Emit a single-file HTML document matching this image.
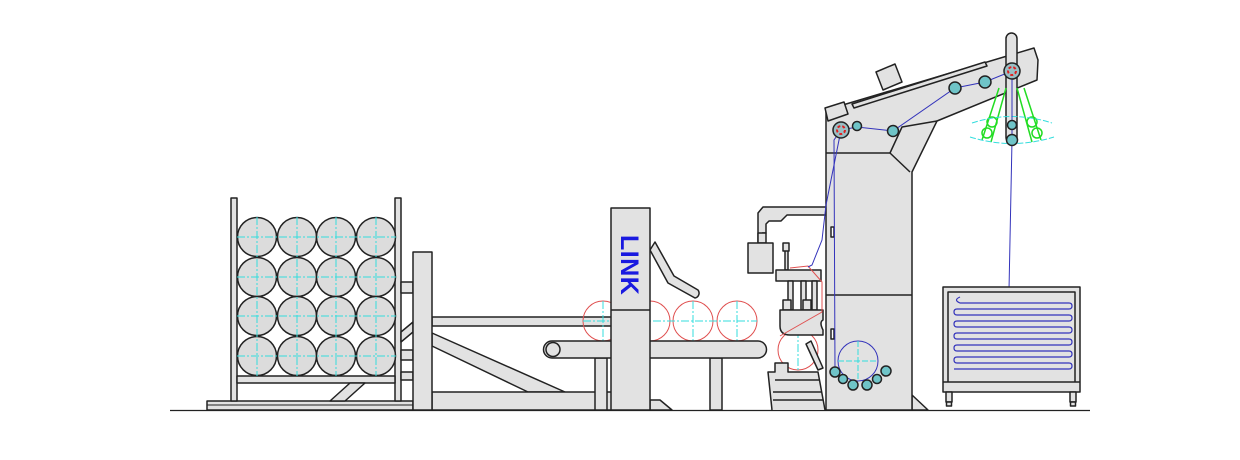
<!DOCTYPE html>
<html><head><meta charset="utf-8"><style>
html,body{margin:0;padding:0;background:#fff;width:1240px;height:460px;overflow:hidden}
svg{display:block}
</style></head><body>
<svg width="1240" height="460" viewBox="0 0 1240 460" xmlns="http://www.w3.org/2000/svg">
<g fill="#e2e2e2" stroke="#222" stroke-width="1.5" stroke-linejoin="round">
<line x1="170" y1="410.5" x2="1090" y2="410.5" stroke-width="1.3"/>
<rect x="207" y="401" width="206" height="9"/>
<line x1="207" y1="405" x2="413" y2="405" stroke-width="1"/>
<rect x="231" y="198" width="6" height="203"/>
<rect x="395" y="198" width="6" height="203"/>
<rect x="237" y="376" width="158" height="7"/>
<polygon points="330,401 345,401 365,383 350,383"/>
<rect x="401" y="282" width="12" height="11"/>
<rect x="401" y="350" width="12" height="10"/>
<rect x="401" y="372" width="12" height="8"/>
<polygon points="401,342 413,332 413,322 401,332"/>
</g>
<g fill="#dcdcdc" stroke="#222" stroke-width="1.5">
<circle cx="257" cy="237" r="19.5"/><circle cx="297" cy="237" r="19.5"/><circle cx="336" cy="237" r="19.5"/><circle cx="376" cy="237" r="19.5"/>
<circle cx="257" cy="277" r="19.5"/><circle cx="297" cy="277" r="19.5"/><circle cx="336" cy="277" r="19.5"/><circle cx="376" cy="277" r="19.5"/>
<circle cx="257" cy="316" r="19.5"/><circle cx="297" cy="316" r="19.5"/><circle cx="336" cy="316" r="19.5"/><circle cx="376" cy="316" r="19.5"/>
<circle cx="257" cy="356" r="19.5"/><circle cx="297" cy="356" r="19.5"/><circle cx="336" cy="356" r="19.5"/><circle cx="376" cy="356" r="19.5"/>
</g>
<g stroke="#33dddd" stroke-width="1" stroke-dasharray="8,2,2,2" fill="none">
<path d="M237 237H396M237 277H396M237 316H396M237 356H396M257 217V376M297 217V376M336 217V376M376 217V376"/>
</g>
<g fill="#e2e2e2" stroke="#222" stroke-width="1.5" stroke-linejoin="round">
<polygon points="432,333 432,346 528,392 565,392"/>
<rect x="432" y="392" width="180" height="18"/>
<rect x="432" y="317" width="180" height="9"/>
<rect x="413" y="252" width="19" height="158"/>
</g>
<g fill="none" stroke="#e05050" stroke-width="1">
<circle cx="603" cy="321" r="20"/><circle cx="650" cy="321" r="20"/><circle cx="693" cy="321" r="20"/><circle cx="737" cy="321" r="20"/>
<circle cx="798" cy="350" r="20"/>
</g>
<g stroke="#33dddd" stroke-width="1" stroke-dasharray="8,2,2,2" fill="none">
<path d="M583 321H757M603 301V341M650 301V341M693 301V341M737 301V341M798 330V370"/>
</g>
<g fill="#e2e2e2" stroke="#222" stroke-width="1.5" stroke-linejoin="round">
<rect x="595" y="358" width="12" height="52"/>
<rect x="710" y="358" width="12" height="52"/>
<polygon points="650,400 660,400 672,410 650,410"/>
<path d="M552 341H758A8.5 8.5 0 0 1 758 358H552A8.5 8.5 0 0 1 552 341Z"/>
<circle cx="553" cy="349.5" r="7"/>
<path d="M650 250 L668 283 L695 298 A5 5 0 0 0 698 290 L674 276 L655 242 Z"/>
<rect x="611" y="208" width="39" height="202"/>
<line x1="611" y1="310" x2="650" y2="310"/>
</g>
<text x="0" y="0" transform="translate(621,235) rotate(90)" font-family="Liberation Sans, sans-serif" font-weight="bold" font-size="25" fill="#1a1ae0" letter-spacing="0.5">LINK</text>
<g fill="#e2e2e2" stroke="#222" stroke-width="1.5" stroke-linejoin="round">
<path d="M758 243 V213 L763 207 H826 V215 H787 L781 221 H769 L766 224 V233 H762"/>
<rect x="758" y="233" width="8" height="10"/>
<rect x="748" y="243" width="25" height="30"/>
<rect x="785" y="244" width="3" height="26"/>
<rect x="783" y="243" width="6" height="8"/>
<rect x="776" y="270" width="45" height="11"/>
<rect x="788" y="281" width="5" height="29"/>
<rect x="801" y="281" width="5" height="29"/>
<rect x="812" y="281" width="5" height="29"/>
<rect x="783" y="300" width="8" height="10"/>
<rect x="803" y="300" width="8" height="10"/>
<path d="M780 310 H823 V320 Q819 322 823 330 V335 H790 Q780 335 780 326 Z"/>
<path d="M772 410 L768 372 H775 V363 H788 V372 L818 372 L825 410"/>
<line x1="775" y1="380" x2="820" y2="380"/><line x1="773" y1="392" x2="822" y2="392"/><line x1="773" y1="400" x2="823" y2="400"/>
<polygon points="806,344 811,341 823,368 818,370"/>
</g>
<path d="M790 268 L808 266 L822 282 L822 312 L780 336" fill="none" stroke="#e05050" stroke-width="1"/>
<g fill="#e2e2e2" stroke="#222" stroke-width="1.5" stroke-linejoin="round">
<polygon points="912,395 912,410 928,410"/>
<polygon points="826,110 1034,48 1038,60 1037,80 937,121 912,172 912,410 826,410"/>
<line x1="826" y1="153" x2="890" y2="153"/>
<polyline points="890,153 910,172" fill="none"/>
<polyline points="890,153 902,127 937,121" fill="none"/>
<line x1="826" y1="295" x2="912" y2="295"/>
<polygon points="825,108 844,102 848,114 828,121"/>
<polygon points="852,104 985,62 987,66 854,108"/>
<polygon points="876,72 895,64 902,82 883,90"/>
<rect x="831" y="227" width="3" height="10" fill="#fff"/>
<rect x="831" y="329" width="3" height="10" fill="#fff"/>
<rect x="1006" y="33" width="11" height="110" rx="5.5"/>
</g>
<g fill="none" stroke="#22dd22" stroke-width="1.5">
<path d="M999 88 L982 140 M1006 88 L991 142"/>
<path d="M1017 88 L1032 142 M1024 88 L1041 140"/>
<circle cx="992" cy="122" r="5"/><circle cx="987" cy="133" r="5"/>
<circle cx="1032" cy="122" r="5"/><circle cx="1037" cy="133" r="5"/>
</g>
<g fill="none" stroke="#33dddd" stroke-width="1" stroke-dasharray="6,2">
<path d="M972 123 Q1012 110 1052 123"/>
<path d="M970 137 Q1012 150 1054 137"/>
</g>
<g fill="none" stroke="#3333bb" stroke-width="1">
<polyline points="841,130 857,127 893,131 955,88 985,82 1012,71 1012,140 1009,290 1003,297 960,297"/>
<polyline points="841,130 834,140 835,370"/>
<polyline points="841,130 826,205 822,240 812,265 808,267"/>
<circle cx="858" cy="361" r="20"/>
</g>
<g stroke="#222" stroke-width="1.5">
<circle cx="841" cy="130" r="8" fill="#9abfc4"/>
<circle cx="1012" cy="71" r="8" fill="#9abfc4"/>
<circle cx="857" cy="126" r="4.5" fill="#6fc4c8"/>
<circle cx="893" cy="131" r="5.5" fill="#6fc4c8"/>
<circle cx="955" cy="88" r="6" fill="#6fc4c8"/>
<circle cx="985" cy="82" r="6" fill="#6fc4c8"/>
<circle cx="1012" cy="125" r="4.5" fill="#6fc4c8"/>
<circle cx="1012" cy="140" r="5.5" fill="#6fc4c8"/>
<circle cx="835" cy="372" r="5" fill="#6fc4c8"/>
<circle cx="843" cy="379" r="4.5" fill="#6fc4c8"/>
<circle cx="853" cy="385" r="5" fill="#6fc4c8"/>
<circle cx="867" cy="385" r="5" fill="#6fc4c8"/>
<circle cx="877" cy="379" r="4.5" fill="#6fc4c8"/>
<circle cx="886" cy="371" r="5" fill="#6fc4c8"/>
</g>
<circle cx="841" cy="130" r="4" fill="none" stroke="#e02020" stroke-width="2" stroke-dasharray="3,2"/>
<circle cx="1012" cy="71" r="4" fill="none" stroke="#e02020" stroke-width="2" stroke-dasharray="3,2"/>
<g stroke="#33dddd" stroke-width="1" stroke-dasharray="6,2" fill="none">
<path d="M838 361H878M858 341V381"/>
</g>
<g fill="#e2e2e2" stroke="#222" stroke-width="1.5" stroke-linejoin="round">
<rect x="943" y="287" width="137" height="105"/>
<polyline points="948,382 948,292 1075,292 1075,382" fill="none"/>
<line x1="943" y1="382" x2="1080" y2="382"/>
<rect x="946" y="392" width="6" height="10"/><rect x="1070" y="392" width="6" height="10"/>
<rect x="946.5" y="402" width="5" height="4"/><rect x="1070.5" y="402" width="5" height="4"/>
</g>
<path d="M960 297 Q953 300 960 303 H1069 Q1072 303 1072 306 Q1072 309 1069 309 H957 Q954 309 954 312 Q954 315 957 315 H1069 Q1072 315 1072 318 Q1072 321 1069 321 H957 Q954 321 954 324 Q954 327 957 327 H1069 Q1072 327 1072 330 Q1072 333 1069 333 H957 Q954 333 954 336 Q954 339 957 339 H1069 Q1072 339 1072 342 Q1072 345 1069 345 H957 Q954 345 954 348 Q954 351 957 351 H1069 Q1072 351 1072 354 Q1072 357 1069 357 H957 Q954 357 954 360 Q954 363 957 363 H1069 Q1072 363 1072 366 Q1072 369 1069 369 H954" fill="none" stroke="#3333bb" stroke-width="1.2"/>
</svg>
</body></html>
